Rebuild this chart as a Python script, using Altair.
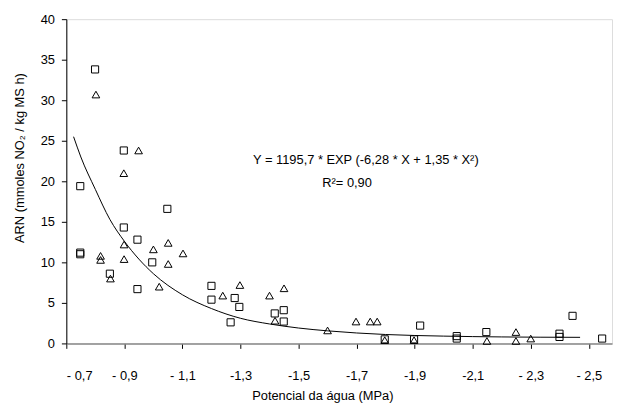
import json
import altair as alt
import pandas as pd

# Squares (series 1): water potential magnitude (MPa) and ARN
sq_x = [0.799, 0.748, 0.748, 0.748, 0.898, 0.898, 0.85, 0.945, 0.945, 0.996, 1.048,
        1.20, 1.20, 1.28, 1.296, 1.266, 1.418, 1.449, 1.449,
        1.797, 1.898, 1.919, 2.045, 2.045, 2.147, 2.399, 2.399, 2.444, 2.546]
sq_y = [33.8, 19.4, 11.0, 11.2, 23.8, 14.3, 8.6, 12.8, 6.7, 10.0, 16.6,
        7.1, 5.4, 5.6, 4.5, 2.6, 3.7, 4.1, 2.7,
        0.5, 0.5, 2.2, 0.6, 0.9, 1.4, 0.8, 1.2, 3.4, 0.6]

# Triangles (series 2)
tr_x = [0.802, 0.949, 0.898, 0.818, 0.818, 0.852, 0.899, 0.899, 1.0, 1.051, 1.051,
        1.02, 1.102, 1.239, 1.298, 1.40, 1.45, 1.419, 1.60,
        1.698, 1.747, 1.771, 1.797, 1.898, 2.149, 2.249, 2.249, 2.30]
tr_y = [30.7, 23.8, 21.0, 10.8, 10.3, 8.0, 12.2, 10.4, 11.6, 12.4, 9.8,
        7.0, 11.1, 5.9, 7.2, 5.9, 6.8, 2.8, 1.6,
        2.7, 2.7, 2.7, 0.4, 0.4, 0.3, 1.4, 0.3, 0.6]

# Fitted curve
cv_x = [0.725, 0.75, 0.80, 0.85, 0.90, 0.95, 1.00, 1.10, 1.20, 1.30, 1.40,
        1.50, 1.60, 1.80, 2.00, 2.20, 2.47]
cv_y = [25.5, 23.0, 19.0, 15.3, 12.6, 10.4, 8.6, 6.0, 4.3, 3.1, 2.4,
        1.9, 1.55, 1.1, 0.9, 0.8, 0.75]

x_ticks = [0.7, 0.9, 1.1, 1.3, 1.5, 1.7, 1.9, 2.1, 2.3, 2.5]
x_tick_labels = ["- 0,7", "- 0,9", "- 1,1", "-1,3", "-1,5", "-1,7", "-1,9", "-2,1", "- 2,3", "- 2,5"]
y_ticks = [0, 5, 10, 15, 20, 25, 30, 35, 40]

eq_text = "Y = 1195,7 * EXP (-6,28 * X + 1,35 * X²)"
r2_text = "R²= 0,90"

FONT = "Liberation Sans"

sq = pd.DataFrame({"x": sq_x, "y": sq_y})
tr = pd.DataFrame({"x": tr_x, "y": tr_y})
cv = pd.DataFrame({"x": cv_x, "y": cv_y})

label_expr = json.dumps(x_tick_labels) + "[round((datum.value - 0.7) / 0.2)]"

xscale = alt.Scale(domain=[0.7, 2.58], nice=False, zero=False)
yscale = alt.Scale(domain=[0, 40], nice=False)

xaxis = alt.Axis(values=x_ticks, labelExpr=label_expr, title="Potencial da água (MPa)",
                 grid=False, domainColor="#888888", domainWidth=1.5, tickColor="black",
                 tickSize=5, labelPadding=21, labelFont=FONT, labelFontSize=13,
                 labelColor="black", titleFont=FONT, titleFontSize=13, titleFontWeight="normal",
                 titleColor="black", titleX=259, titleY=53, titleBaseline="middle")
yaxis = alt.Axis(values=y_ticks, title="ARN (mmoles NO₂ / kg MS h)", grid=False,
                 domainColor="black", tickColor="black", tickSize=5, labelPadding=7,
                 labelFont=FONT, labelFontSize=13, labelColor="black", titleFont=FONT,
                 titleFontSize=13, titleFontWeight="normal", titleColor="black",
                 titleX=-47, titleY=140, titleAlign="center", titleBaseline="middle")

base_x = alt.X("x:Q", scale=xscale, axis=xaxis)
base_y = alt.Y("y:Q", scale=yscale, axis=yaxis)

curve = alt.Chart(cv).mark_line(color="black", strokeWidth=1, interpolate="monotone").encode(
    x=base_x, y=base_y)
squares = alt.Chart(sq).mark_point(shape="square", filled=False, color="black",
                                   strokeWidth=1, size=52, opacity=1).encode(x=base_x, y=base_y)
triangles = alt.Chart(tr).mark_point(shape="triangle-up", filled=False, color="black",
                                     strokeWidth=1, size=60, opacity=1).encode(x=base_x, y=base_y)

eq = alt.Chart(pd.DataFrame({"t": [eq_text]})).mark_text(
    font=FONT, fontSize=13, color="black", align="center", baseline="middle"
).encode(text="t:N", x=alt.value(303), y=alt.value(143))
r2 = alt.Chart(pd.DataFrame({"t": [r2_text]})).mark_text(
    font=FONT, fontSize=13, color="black", align="center", baseline="middle"
).encode(text="t:N", x=alt.value(284), y=alt.value(166))

chart = alt.layer(curve, squares, triangles, eq, r2).properties(
    width=552, height=328,
    autosize=alt.AutoSizeParams(type="none"),
    padding={"left": 59, "top": 9, "right": 2, "bottom": 60},
).configure_view(stroke=None).configure(background="white")

chart.save("out.html", embed_options={"renderer": "svg", "actions": False})
